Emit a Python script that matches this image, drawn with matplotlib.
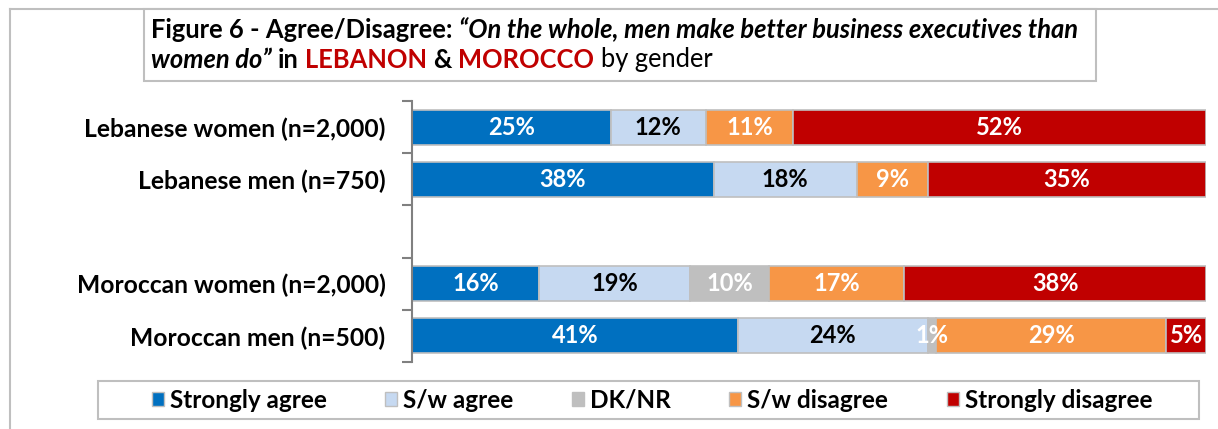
import numpy as np
import matplotlib.pyplot as plt
from matplotlib.patches import Rectangle, Patch

plt.rcParams['font.family'] = ['Lato', 'DejaVu Sans']

# data
groups = ['Lebanese women (n=2,000)', 'Lebanese men (n=750)',
          'Moroccan women (n=2,000)', 'Moroccan men (n=500)']
series_names = ['Strongly agree', 'S/w agree', 'DK/NR', 'S/w disagree', 'Strongly disagree']
strongly_agree = [25, 38, 16, 41]
sw_agree = [12, 18, 19, 24]
dk_nr = [0, 0, 10, 1]
sw_disagree = [11, 9, 17, 29]
strongly_disagree = [52, 35, 38, 5]

colors = ['#0070C0', '#C6D9F1', '#BFBFBF', '#F79646', '#C00000']
label_colors = ['white', 'black', 'white', 'white', 'white']

W, H = 1218, 429
fig = plt.figure(figsize=(W / 100, H / 100), dpi=100)

def fx(px):
    return px / W

def fy(py):
    return 1 - py / H

# overlay axes in figure coordinates for frames and title
tax = fig.add_axes([0, 0, 1, 1])
tax.axis('off')
tax.set_xlim(0, 1)
tax.set_ylim(0, 1)

# outer frame (cropped chart area border)
tax.plot([fx(10), 1], [fy(9), fy(9)], color='#BFBFBF', lw=1.5)
tax.plot([fx(10), fx(10)], [fy(9), 0], color='#BFBFBF', lw=1.5)

# title box
tax.add_patch(Rectangle((fx(144), fy(81)), fx(1096) - fx(144), fy(9) - fy(81),
                        facecolor='white', edgecolor='#BFBFBF', lw=1.5, zorder=2))

title_fs = 18.4

def rich_line(x, y, pieces):
    prev = None
    for txt, kw, gap in pieces:
        if prev is None:
            prev = tax.text(x, y, txt, fontsize=title_fs, va='bottom', ha='left',
                            zorder=3, **kw)
        else:
            prev = tax.annotate(txt, xy=(1, 0), xycoords=prev, xytext=(gap, 0),
                                textcoords='offset points', va='bottom', ha='left',
                                fontsize=title_fs, zorder=3, **kw)

sp = title_fs * 0.25
B = dict(fontweight='bold', color='black')
BI = dict(fontweight='bold', fontstyle='italic', color='black')
R = dict(fontweight='bold', color='#C00000')
N = dict(fontweight='normal', color='black')

rich_line(fx(151), fy(42), [
    ('Figure 6 - Agree/Disagree:', B, 0),
    ('\u201cOn the whole, men make better business executives than', BI, sp),
])
rich_line(fx(151), fy(72), [
    ('women do\u201d', BI, 0),
    ('in', B, sp),
    ('LEBANON', R, sp),
    ('&', B, sp),
    ('MOROCCO', R, sp),
    ('by gender', N, sp),
])

# bars
ax = fig.add_axes([fx(412), fy(362), fx(1206) - fx(412), fy(101) - fy(362)])
ypos = [0, 1, 3, 4]
series = [strongly_agree, sw_agree, dk_nr, sw_disagree, strongly_disagree]
left = np.zeros(len(groups))
for vals, name, c, lc in zip(series, series_names, colors, label_colors):
    vals = np.array(vals, dtype=float)
    ax.barh(ypos, vals, left=left, height=0.67, color=c, edgecolor='#BFBFBF',
            linewidth=1.2, label=name)
    for y, v, l in zip(ypos, vals, left):
        if v > 0:
            ax.text(l + v / 2, y, f'{v:.0f}%', ha='center', va='center',
                    color=lc, fontsize=17, fontweight='bold')
    left += vals

ax.set_xlim(0, 100)
ax.set_ylim(4.5, -0.5)
ax.set_xticks([])
ax.set_yticks(ypos)
ax.set_yticklabels(groups, fontsize=17.7, fontweight='bold')
ax.set_yticks(np.arange(-0.5, 5, 1), minor=True)
ax.tick_params(axis='y', which='major', length=0, pad=19)
ax.tick_params(axis='y', which='minor', length=7, width=1.5, color='#808080')
for s in ['top', 'right', 'bottom']:
    ax.spines[s].set_visible(False)
ax.spines['left'].set_color('#808080')
ax.spines['left'].set_linewidth(1.5)

# legend
tax.add_patch(Rectangle((fx(98), fy(419)), fx(1199) - fx(98), fy(381) - fy(419),
                        facecolor='white', edgecolor='#BFBFBF', lw=1.5))
handles = [Patch(facecolor=c, edgecolor='#BFBFBF', label=n) for c, n in zip(colors, series_names)]
fig.legend(handles=handles, loc='center', bbox_to_anchor=(fx(652), fy(400)),
           ncol=5, frameon=False, handlelength=0.5, handleheight=0.5,
           handletextpad=0.25, columnspacing=2.4,
           prop=dict(family=['Lato', 'DejaVu Sans'], weight='bold', size=17.5))

fig.savefig('out.png', dpi=100)
